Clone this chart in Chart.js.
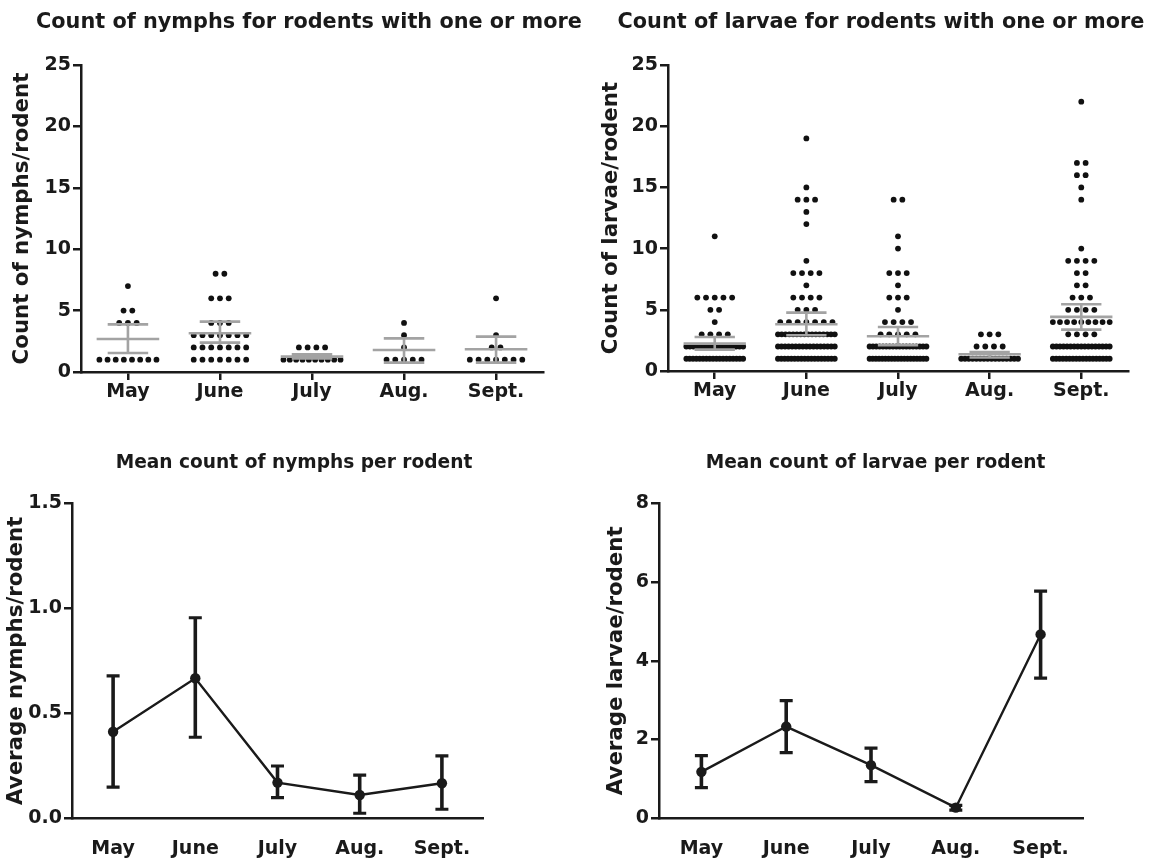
<!DOCTYPE html>
<html><head><meta charset="utf-8">
<script src="https://cdn.jsdelivr.net/npm/chart.js@4.4.1/dist/chart.umd.min.js"></script>
<style>
html,body{margin:0;padding:0;background:#fff;}
#wrap{position:relative;width:1163px;height:860px;overflow:hidden;background:#fff;}
#wrap canvas{position:absolute;}
</style></head><body>
<div id="wrap">
<canvas id="c1" width="581" height="430" style="left:0;top:0"></canvas>
<canvas id="c2" width="582" height="430" style="left:581px;top:0"></canvas>
<canvas id="c3" width="581" height="430" style="left:0;top:430px"></canvas>
<canvas id="c4" width="582" height="430" style="left:581px;top:430px"></canvas>
</div>
<script>
// ---------- data ----------
const months = ['May', 'June', 'July', 'Aug.', 'Sept.'];

// Ticks per rodent (rodents with one or more): [count, number of rodents]
const nymphsMay  = [[1,8],[4,3],[5,2],[7,1]];
const nymphsJune = [[1,7],[2,7],[3,7],[4,3],[6,3],[8,2]];
const nymphsJuly = [[1,10],[2,4]];
const nymphsAug  = [[1,5],[2,1],[3,1],[4,1]];
const nymphsSept = [[1,7],[2,2],[3,1],[6,1]];
const nymphsMean  = [2.69, 3.15, 1.25, 1.79, 1.85];
const nymphsUpper = [3.88, 4.10, 1.45, 2.74, 2.88];
const nymphsLower = [1.55, 2.39, 1.10, 0.76, 0.76];

const larvaeMay  = [[1,18],[2,17],[3,4],[4,1],[5,2],[6,5],[11,1]];
const larvaeJune = [[1,18],[2,17],[3,16],[4,7],[5,3],[6,4],[7,1],[8,4],[9,1],[12,1],[13,1],[14,3],[15,1],[19,1]];
const larvaeJuly = [[1,19],[2,18],[3,5],[4,4],[5,1],[6,3],[7,1],[8,3],[10,1],[11,1],[14,2]];
const larvaeAug  = [[1,16],[2,4],[3,3]];
const larvaeSept = [[1,18],[2,17],[3,4],[4,9],[5,4],[6,3],[7,2],[8,2],[9,4],[10,1],[14,1],[15,1],[16,2],[17,2],[22,1]];
const larvaeMean  = [2.24, 3.82, 2.84, 1.37, 4.42];
const larvaeUpper = [2.78, 4.77, 3.60, 1.55, 5.45];
const larvaeLower = [1.75, 2.92, 2.10, 1.10, 3.38];

// Mean count per rodent (all rodents) with error bars
const nymphsAvg   = [0.412, 0.667, 0.170, 0.111, 0.167];
const nymphsAvgHi = [0.678, 0.955, 0.249, 0.206, 0.297];
const nymphsAvgLo = [0.148, 0.386, 0.098, 0.024, 0.043];
const larvaeAvg   = [1.18, 2.33, 1.35, 0.27, 4.67];
const larvaeAvgHi = [1.59, 2.99, 1.78, 0.33, 5.77];
const larvaeAvgLo = [0.78, 1.67, 0.93, 0.21, 3.56];

// ---------- styling ----------
const INK = '#1a1a1a';
const GREY = '#a3a3a3';
const FONT = 'DejaVu Sans';
Chart.defaults.font.family = FONT;
Chart.defaults.font.weight = 'bold';
Chart.defaults.color = INK;
Chart.defaults.animation = false;
Chart.defaults.events = [];

const DOT_STEP = 0.095;   // spacing of dots in a row (category units)
const ROW_WIDTH = 0.62;   // max width of a row of dots

function swarm(tables) {
  const pts = [];
  tables.forEach((table, i) => {
    table.forEach(([v, n]) => {
      const step = n > 1 ? Math.min(DOT_STEP, ROW_WIDTH / (n - 1)) : 0;
      for (let k = 0; k < n; k++) pts.push({x: i + (k - (n - 1) / 2) * step, y: v});
    });
  });
  return pts;
}

const titlePlugin = {
  id: 'panelTitle',
  afterDraw(chart, args, opts) {
    const {ctx, chartArea} = chart;
    ctx.save();
    ctx.font = `bold ${opts.size}px "${FONT}"`;
    ctx.fillStyle = INK;
    ctx.textAlign = 'center';
    ctx.textBaseline = 'alphabetic';
    const cx = opts.cx != null ? opts.cx : (chartArea.left + chartArea.right) / 2;
    ctx.fillText(opts.text, cx, opts.baseline);
    ctx.restore();
  }
};

const meanPlugin = {
  id: 'meanBars',
  afterDatasetsDraw(chart, args, opts) {
    if (!opts.mean) return;
    const {ctx} = chart;
    const xs = chart.scales.x, ys = chart.scales.y;
    ctx.save();
    ctx.strokeStyle = GREY;
    ctx.lineWidth = 2.6;
    ctx.lineCap = 'butt';
    opts.mean.forEach((m, i) => {
      const yM = ys.getPixelForValue(m), yU = ys.getPixelForValue(opts.upper[i]), yL = ys.getPixelForValue(opts.lower[i]);
      const x0 = xs.getPixelForValue(i);
      const mh = xs.getPixelForValue(i + 0.34) - x0;
      const ch = xs.getPixelForValue(i + 0.22) - x0;
      ctx.beginPath();
      ctx.moveTo(x0 - mh, yM); ctx.lineTo(x0 + mh, yM);
      ctx.moveTo(x0, yU); ctx.lineTo(x0, yL);
      ctx.moveTo(x0 - ch, yU); ctx.lineTo(x0 + ch, yU);
      ctx.moveTo(x0 - ch, yL); ctx.lineTo(x0 + ch, yL);
      ctx.stroke();
    });
    ctx.restore();
  }
};

const errPlugin = {
  id: 'errBars',
  beforeDatasetsDraw(chart, args, opts) {
    if (!opts.hi) return;
    const {ctx} = chart;
    const xs = chart.scales.x, ys = chart.scales.y;
    ctx.save();
    ctx.strokeStyle = INK;
    ctx.lineCap = 'butt';
    opts.hi.forEach((h, i) => {
      const x = xs.getPixelForValue(i);
      const yH = ys.getPixelForValue(h), yL = ys.getPixelForValue(opts.lo[i]);
      ctx.lineWidth = 3.6;
      ctx.beginPath(); ctx.moveTo(x, yH); ctx.lineTo(x, yL); ctx.stroke();
      ctx.lineWidth = 3.2;
      ctx.beginPath();
      ctx.moveTo(x - 6.5, yH); ctx.lineTo(x + 6.5, yH);
      ctx.moveTo(x - 6.5, yL); ctx.lineTo(x + 6.5, yL);
      ctx.stroke();
    });
    ctx.restore();
  }
};

const TICK_FONT = {size: 19, weight: 'bold', family: FONT};
const AXIS_FONT = {size: 21.3, weight: 'bold', family: FONT};

function axisBorder() { return {display: true, color: INK, width: 2.5}; }

function scatterPanel(id, tables, mean, upper, lower, cfg) {
  new Chart(document.getElementById(id), {
    type: 'scatter',
    data: {datasets: [{data: swarm(tables), pointRadius: 2.9, pointHoverRadius: 2.9,
      backgroundColor: '#111', borderWidth: 0}]},
    options: {
      responsive: false,
      layout: {padding: {left: 0, top: cfg.top, right: cfg.right, bottom: 0}},
      scales: {
        x: {type: 'linear', min: -0.51, max: 4.51,
          afterBuildTicks: s => { s.ticks = months.map((m, i) => ({value: i})); },
          afterFit: s => { s.height = cfg.xh; },
          ticks: {font: TICK_FONT, color: INK, padding: 1, maxRotation: 0, autoSkip: false,
            callback: v => months[v]},
          grid: {display: true, drawOnChartArea: false, drawTicks: true, tickLength: 8, color: INK, lineWidth: 2.5},
          border: axisBorder()},
        y: {min: 0, max: 25,
          afterFit: s => { s.width = cfg.yw; },
          ticks: {stepSize: 5, font: TICK_FONT, color: INK, padding: 2},
          grid: {display: true, drawOnChartArea: false, drawTicks: true, tickLength: 8, color: INK, lineWidth: 2.5},
          border: axisBorder(),
          title: {display: true, text: cfg.ytitle, font: AXIS_FONT, color: INK, padding: {top: cfg.ytp, bottom: 0}}}
      },
      plugins: {legend: {display: false}, tooltip: {enabled: false},
        panelTitle: {text: cfg.title, size: cfg.ts, baseline: cfg.tb, cx: cfg.tcx},
        meanBars: {mean, upper, lower}}
    },
    plugins: [titlePlugin, meanPlugin]
  });
}

function meanPanel(id, avg, hi, lo, cfg) {
  new Chart(document.getElementById(id), {
    type: 'line',
    data: {labels: months, datasets: [{data: avg, borderColor: INK, borderWidth: 2.4,
      pointRadius: 5.2, pointHoverRadius: 5.2, pointBackgroundColor: INK, pointBorderWidth: 0, tension: 0}]},
    options: {
      responsive: false,
      layout: {padding: {left: 0, top: cfg.top, right: cfg.right, bottom: 0}},
      scales: {
        x: {type: 'category', offset: true,
          afterFit: s => { s.height = cfg.xh; },
          ticks: {font: TICK_FONT, color: INK, padding: 11, maxRotation: 0, autoSkip: false},
          grid: {display: false},
          border: axisBorder()},
        y: {min: 0, max: cfg.ymax,
          afterFit: s => { s.width = cfg.yw; },
          ticks: {stepSize: cfg.step, font: TICK_FONT, color: INK, padding: 2, callback: cfg.fmt},
          grid: {display: true, drawOnChartArea: false, drawTicks: true, tickLength: 8, color: INK, lineWidth: 2.5},
          border: axisBorder(),
          title: {display: true, text: cfg.ytitle, font: AXIS_FONT, color: INK, padding: {top: cfg.ytp, bottom: 0}}}
      },
      plugins: {legend: {display: false}, tooltip: {enabled: false},
        panelTitle: {text: cfg.title, size: cfg.ts, baseline: cfg.tb, cx: cfg.tcx},
        errBars: {hi, lo}}
    },
    plugins: [titlePlugin, errPlugin]
  });
}

scatterPanel('c1', [nymphsMay, nymphsJune, nymphsJuly, nymphsAug, nymphsSept],
  nymphsMean, nymphsUpper, nymphsLower,
  {top: 65, right: 38, xh: 58, yw: 81, ytp: 10, ytitle: 'Count of nymphs/rodent',
   title: 'Count of nymphs for rodents with one or more', ts: 20.8, tb: 28, tcx: 309});

scatterPanel('c2', [larvaeMay, larvaeJune, larvaeJuly, larvaeAug, larvaeSept],
  larvaeMean, larvaeUpper, larvaeLower,
  {top: 65, right: 35, xh: 59, yw: 87, ytp: 18, ytitle: 'Count of larvae/rodent',
   title: 'Count of larvae for rodents with one or more', ts: 20.8, tb: 28, tcx: 300});

meanPanel('c3', nymphsAvg, nymphsAvgHi, nymphsAvgLo,
  {top: 73.3, right: 98, xh: 41.7, yw: 72, ytp: 4, ymax: 1.5, step: 0.5, fmt: v => v.toFixed(1),
   ytitle: 'Average nymphs/rodent', title: 'Mean count of nymphs per rodent', ts: 18.6, tb: 38, tcx: 294});

meanPanel('c4', larvaeAvg, larvaeAvgHi, larvaeAvgLo,
  {top: 73.3, right: 80, xh: 41.7, yw: 78, ytp: 23, ymax: 8, step: 2, fmt: v => String(v),
   ytitle: 'Average larvae/rodent', title: 'Mean count of larvae per rodent', ts: 18.6, tb: 38, tcx: 294.5});
</script>
</body></html>
